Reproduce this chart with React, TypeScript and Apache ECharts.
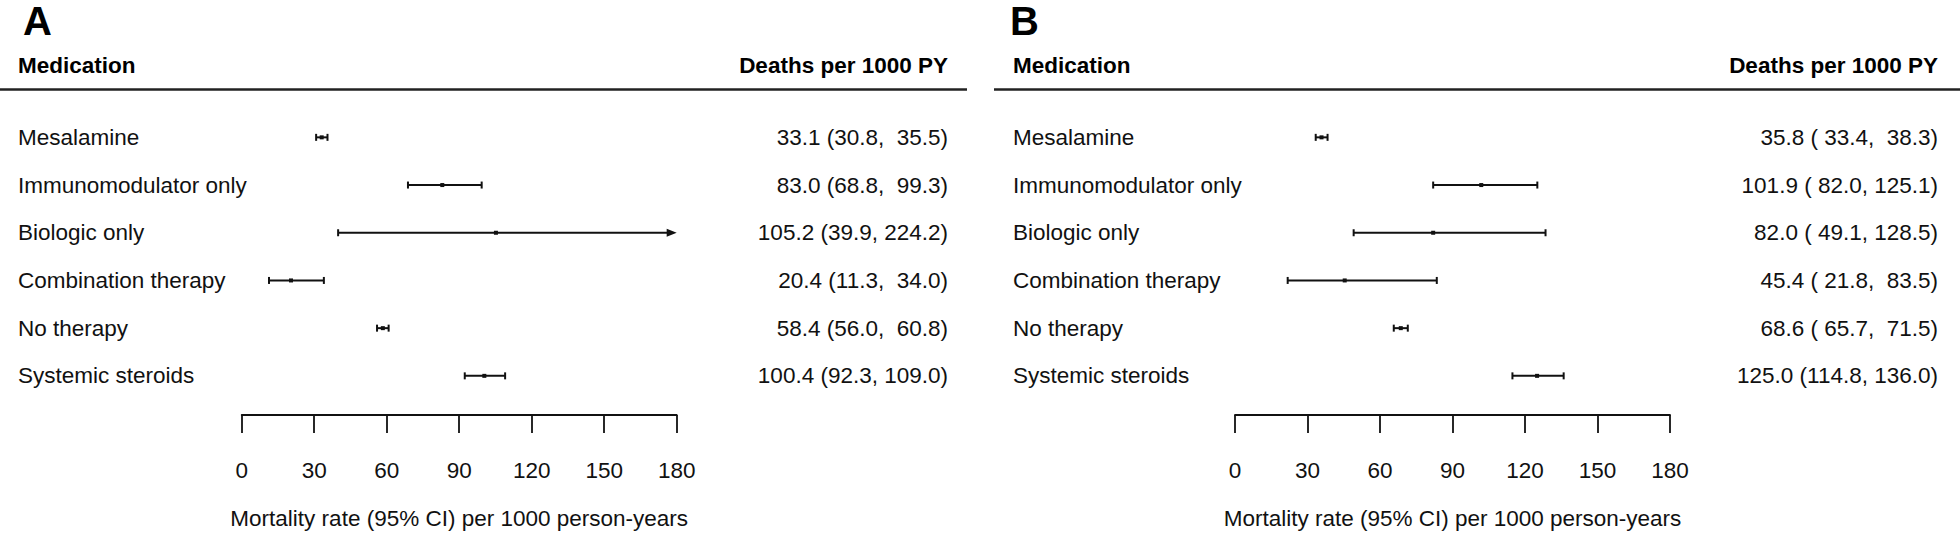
import React, { useEffect, useRef } from "react";
import * as echarts from "echarts";

const categories = [
  "Mesalamine",
  "Immunomodulator only",
  "Biologic only",
  "Combination therapy",
  "No therapy",
  "Systemic steroids",
];
const estA = [33.1, 83.0, 105.2, 20.4, 58.4, 100.4];
const lowA = [30.8, 68.8, 39.9, 11.3, 56.0, 92.3];
const highA = [35.5, 99.3, 224.2, 34.0, 60.8, 109.0];
const estB = [35.8, 101.9, 82.0, 45.4, 68.6, 125.0];
const lowB = [33.4, 82.0, 49.1, 21.8, 65.7, 114.8];
const highB = [38.3, 125.1, 128.5, 83.5, 71.5, 136.0];
const xTicks = [0, 30, 60, 90, 120, 150, 180];
const panelLetters = ["A", "B"];
const headerLeft = "Medication";
const headerRight = "Deaths per 1000 PY";
const axisTitle = "Mortality rate (95% CI) per 1000 person-years";

const FONT = "'Liberation Sans', Arial, Helvetica, sans-serif";
const INK = "#111111";
const FS = 22.5;

function fmtCol(vals: number[]) {
  const s = vals.map((v) => v.toFixed(1));
  const w = Math.max(...s.map((x) => x.length));
  return s.map((x) => x.padStart(w, " "));
}
function buildLabels(est: number[], lo: number[], hi: number[]) {
  const e = est.map((v) => v.toFixed(1));
  const l = fmtCol(lo);
  const h = fmtCol(hi);
  return e.map((x, i) => `${x} (${l[i]}, ${h[i]})`);
}

const labelsA = buildLabels(estA, lowA, highA);
const labelsB = buildLabels(estB, lowB, highB);

const xMin = xTicks[0];
const xMax = xTicks[xTicks.length - 1];

const panels = [
  { left: 241.7, labelX: 18, numRight: 948, lineX1: 0, lineX2: 967, letterX: 23, est: estA, lo: lowA, hi: highA, labels: labelsA },
  { left: 1235, labelX: 1013, numRight: 1938, lineX1: 994, lineX2: 1960, letterX: 1010, est: estB, lo: lowB, hi: highB, labels: labelsB },
];
const AXIS_W = 435;
const GRID_TOP = 113.5;
const GRID_H = 286.2;

function renderItem(params: any, api: any) {
  const est = api.value(0);
  const lo = api.value(1);
  const hi = api.value(2);
  const idx = api.value(3);
  const clipped = hi > xMax;
  const pLo = api.coord([lo, idx]);
  const pHi = api.coord([Math.min(hi, xMax), idx]);
  const pE = api.coord([est, idx]);
  const y = pE[1];
  const st = { stroke: INK, lineWidth: 2 };
  const children: any[] = [
    { type: "line", shape: { x1: pLo[0], y1: y, x2: clipped ? pHi[0] - 6 : pHi[0], y2: y }, style: st },
    { type: "line", shape: { x1: pLo[0], y1: y - 3.5, x2: pLo[0], y2: y + 3.5 }, style: st },
  ];
  if (clipped) {
    children.push({
      type: "polygon",
      shape: { points: [[pHi[0] - 10, y - 4], [pHi[0], y], [pHi[0] - 10, y + 4]] },
      style: { fill: INK },
    });
  } else {
    children.push({ type: "line", shape: { x1: pHi[0], y1: y - 3.5, x2: pHi[0], y2: y + 3.5 }, style: st });
  }
  children.push({ type: "rect", shape: { x: pE[0] - 2, y: y - 2, width: 4, height: 4 }, style: { fill: INK } });
  return { type: "group", children };
}

export default function App() {
  const ref = useRef<HTMLDivElement>(null);
  useEffect(() => {
    if (!ref.current) return;
    const chart = echarts.init(ref.current, null, { renderer: "svg" });
    const grid: any[] = [];
    const xAxis: any[] = [];
    const yAxis: any[] = [];
    const series: any[] = [];
    const graphic: any[] = [];
    panels.forEach((p, gi) => {
      grid.push({ left: p.left, width: AXIS_W, top: GRID_TOP, height: GRID_H, containLabel: false });
      xAxis.push({
        type: "value",
        gridIndex: gi,
        min: xMin,
        max: xMax,
        interval: 30,
        position: "bottom",
        offset: 15.3,
        axisLine: { show: true, lineStyle: { color: INK, width: 1.8 } },
        axisTick: { show: true, length: 18, lineStyle: { color: INK, width: 1.8 } },
        splitLine: { show: false },
        axisLabel: { margin: 44, fontSize: FS, color: INK, fontFamily: FONT, showMinLabel: true, showMaxLabel: true },
        name: axisTitle,
        nameLocation: "middle",
        nameGap: 103,
        nameTextStyle: { fontSize: FS, color: INK, fontFamily: FONT, verticalAlign: "middle" },
      });
      yAxis.push({
        type: "category",
        gridIndex: gi,
        data: categories,
        inverse: true,
        position: "left",
        axisLine: { show: false },
        axisTick: { show: false },
        splitLine: { show: false },
        axisLabel: { align: "left", margin: p.left - p.labelX, fontSize: FS, color: INK, fontFamily: FONT },
      });
      yAxis.push({
        type: "category",
        gridIndex: gi,
        data: categories,
        inverse: true,
        position: "right",
        axisLine: { show: false },
        axisTick: { show: false },
        splitLine: { show: false },
        axisLabel: {
          align: "right",
          margin: p.numRight - (p.left + AXIS_W),
          fontSize: FS,
          color: INK,
          fontFamily: FONT,
          formatter: (_v: string, i: number) => p.labels[i],
        },
      });
      series.push({
        type: "custom",
        xAxisIndex: gi,
        yAxisIndex: gi * 2,
        clip: false,
        renderItem,
        encode: { x: [0, 1, 2], y: 3 },
        data: p.est.map((e, i) => [e, p.lo[i], p.hi[i], i]),
      });
      graphic.push(
        {
          type: "text",
          x: p.letterX,
          y: 1,
          style: { text: panelLetters[gi], fontSize: 40, lineHeight: 40, fontWeight: "bold", fontFamily: FONT, fill: "#000", align: "left", verticalAlign: "top", textAlign: "left", textVerticalAlign: "top" },
        },
        {
          type: "text",
          x: p.labelX,
          y: 65,
          style: { text: headerLeft, fontSize: FS, fontWeight: "bold", fontFamily: FONT, fill: "#000", align: "left", verticalAlign: "middle", textAlign: "left", textVerticalAlign: "middle" },
        },
        {
          type: "text",
          x: p.numRight,
          y: 65,
          style: { text: headerRight, fontSize: FS, fontWeight: "bold", fontFamily: FONT, fill: "#000", align: "right", verticalAlign: "middle", textAlign: "right", textVerticalAlign: "middle" },
        },
        {
          type: "line",
          shape: { x1: p.lineX1, y1: 89.5, x2: p.lineX2, y2: 89.5 },
          style: { stroke: "#222", lineWidth: 2.5 },
        }
      );
    });
    chart.setOption({
      animation: false,
      backgroundColor: "#ffffff",
      textStyle: { fontFamily: FONT },
      grid,
      xAxis,
      yAxis,
      series,
      graphic,
    });
    return () => chart.dispose();
  }, []);
  return (
    <div
      ref={ref}
      style={{ position: "absolute", left: 0, top: 0, width: 1960, height: 536, background: "#fff" }}
    />
  );
}
